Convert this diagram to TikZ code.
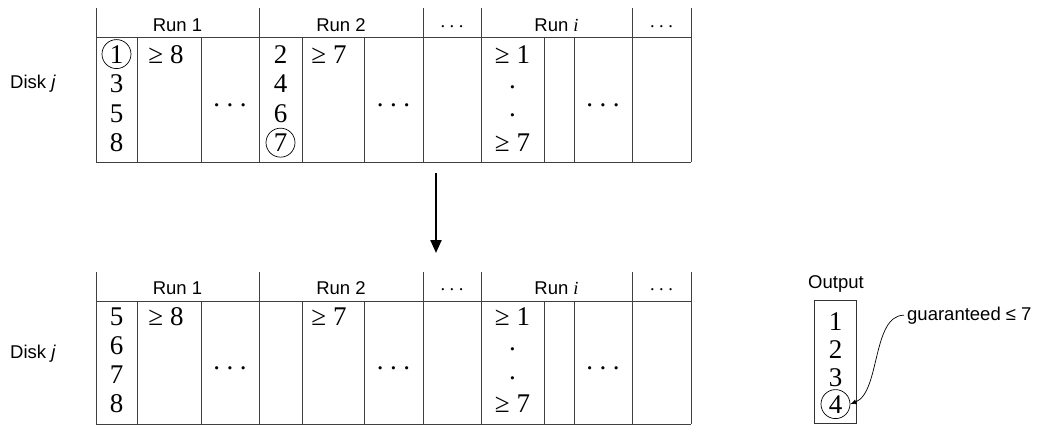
\documentclass[tikz,border=0pt]{standalone}
\usepackage{fontspec}
\setmainfont{Liberation Serif}
\newfontfamily\sfn{Liberation Sans}
\usetikzlibrary{arrows.meta}
\newcommand\numsz{\fontsize{27}{30}\selectfont}
\newcommand\labsz{\fontsize{18.5}{21}\selectfont}
\newcommand\bodydots{.\kern6.5pt.\kern6.5pt.}
\newcommand\headdots{.\kern4.5pt.\kern4.5pt.}
\begin{document}
\begin{tikzpicture}[x=1pt,y=-1pt,
  grid/.style={draw=black!75,line width=0.9pt},
  num/.style={anchor=base,inner sep=0pt,font=\numsz},
  dotn/.style={anchor=center,inner sep=0pt,font=\numsz},
  hdot/.style={anchor=center,inner sep=0pt,font=\labsz},
  lab/.style={anchor=base,inner sep=0pt,font=\sfn\labsz},
  circ/.style={num,circle,draw=black,line width=0.7pt,minimum size=29pt},
]
\useasboundingbox (0,0) rectangle (1037,429);

% ---------- table grids ----------
\foreach \t/\h/\b in {8/37/162, 272/301/424} {
  \foreach \x in {96,259,423,481,632,691} \draw[grid] (\x,\t) -- (\x,\b);
  \foreach \x in {137,201,302,364,544,574} \draw[grid] (\x,\h) -- (\x,\b);
  \draw[grid] (95.55,\h) -- (691.45,\h);
  \draw[grid] (95.55,\b) -- (691.45,\b);
}

% ---------- upper table ----------
\node[lab,anchor=base west] (diskA) at (10,88) {Disk \textit{j}};
\node[lab] (hA1) at (177.5,31) {Run 1};
\node[lab] (hA2) at (341,31) {Run 2};
\node[hdot] (hA3) at (452,26.5) {\headdots};
\node[lab] (hA4) at (556.5,31) {Run {\rmfamily\itshape i}};
\node[hdot] (hA5) at (661.5,26.5) {\headdots};

\node[circ] (a11) at (116.5,63) {1};
\node[num] (a12) at (116.5,92.5) {3};
\node[num] (a13) at (116.5,122) {5};
\node[num] (a14) at (116.5,151.5) {8};
\node[num] (a2) at (166,63) {≥ 8};
\node[dotn] (a3) at (230,105) {\bodydots};
\node[num] (a41) at (280.5,63) {2};
\node[num] (a42) at (280.5,92.5) {4};
\node[num] (a43) at (280.5,122) {6};
\node[circ] (a44) at (280.5,151.5) {7};
\node[num] (a5) at (329,63) {≥ 7};
\node[dotn] (a6) at (393.5,105) {\bodydots};
\node[num] (a71) at (512.5,63) {≥ 1};
\node[dotn] (a72) at (512.5,87) {.};
\node[dotn] (a73) at (512.5,115) {.};
\node[num] (a74) at (512.5,151.5) {≥ 7};
\node[dotn] (a8) at (603,105) {\bodydots};

% ---------- arrow ----------
\coordinate (arrS) at (436,173);
\coordinate (arrE) at (436,253);
\draw[line width=2.2pt,-{Triangle[length=13pt,width=11pt]}] (arrS) -- (arrE);

% ---------- lower table ----------
\node[lab,anchor=base west] (diskB) at (10,358) {Disk \textit{j}};
\node[lab] (hB1) at (177.5,294) {Run 1};
\node[lab] (hB2) at (341,294) {Run 2};
\node[hdot] (hB3) at (452,289.5) {\headdots};
\node[lab] (hB4) at (556.5,294) {Run {\rmfamily\itshape i}};
\node[hdot] (hB5) at (661.5,289.5) {\headdots};

\node[num] (b11) at (116.5,325) {5};
\node[num] (b12) at (116.5,354) {6};
\node[num] (b13) at (116.5,383) {7};
\node[num] (b14) at (116.5,412) {8};
\node[num] (b2) at (166,325) {≥ 8};
\node[dotn] (b3) at (230,368) {\bodydots};
\node[num] (b5) at (329,325) {≥ 7};
\node[dotn] (b6) at (393.5,368) {\bodydots};
\node[num] (b71) at (512.5,325) {≥ 1};
\node[dotn] (b72) at (512.5,349) {.};
\node[dotn] (b73) at (512.5,378) {.};
\node[num] (b74) at (512.5,412) {≥ 7};
\node[dotn] (b8) at (603,368) {\bodydots};

% ---------- output ----------
\node[lab] (outl) at (836,288) {Output};
\node[draw=black!80,line width=0.8pt,minimum width=42pt,minimum height=123pt,inner sep=0pt] (outbox) at (835,361.5) {};
\node[num] (o1) at (835.5,330) {1};
\node[num] (o2) at (835.5,358) {2};
\node[num] (o3) at (835.5,386) {3};
\node[circ] (o4) at (835.5,413) {4};

\node[lab,anchor=base west,inner xsep=3pt] (guar) at (904,320) {guaranteed ≤ 7};
\draw[line width=0.7pt,-{Latex[length=6pt,width=5pt]}] (guar.west) .. controls +(-32,0) and +(30,-12) .. (o4.east);
\end{tikzpicture}
\end{document}
